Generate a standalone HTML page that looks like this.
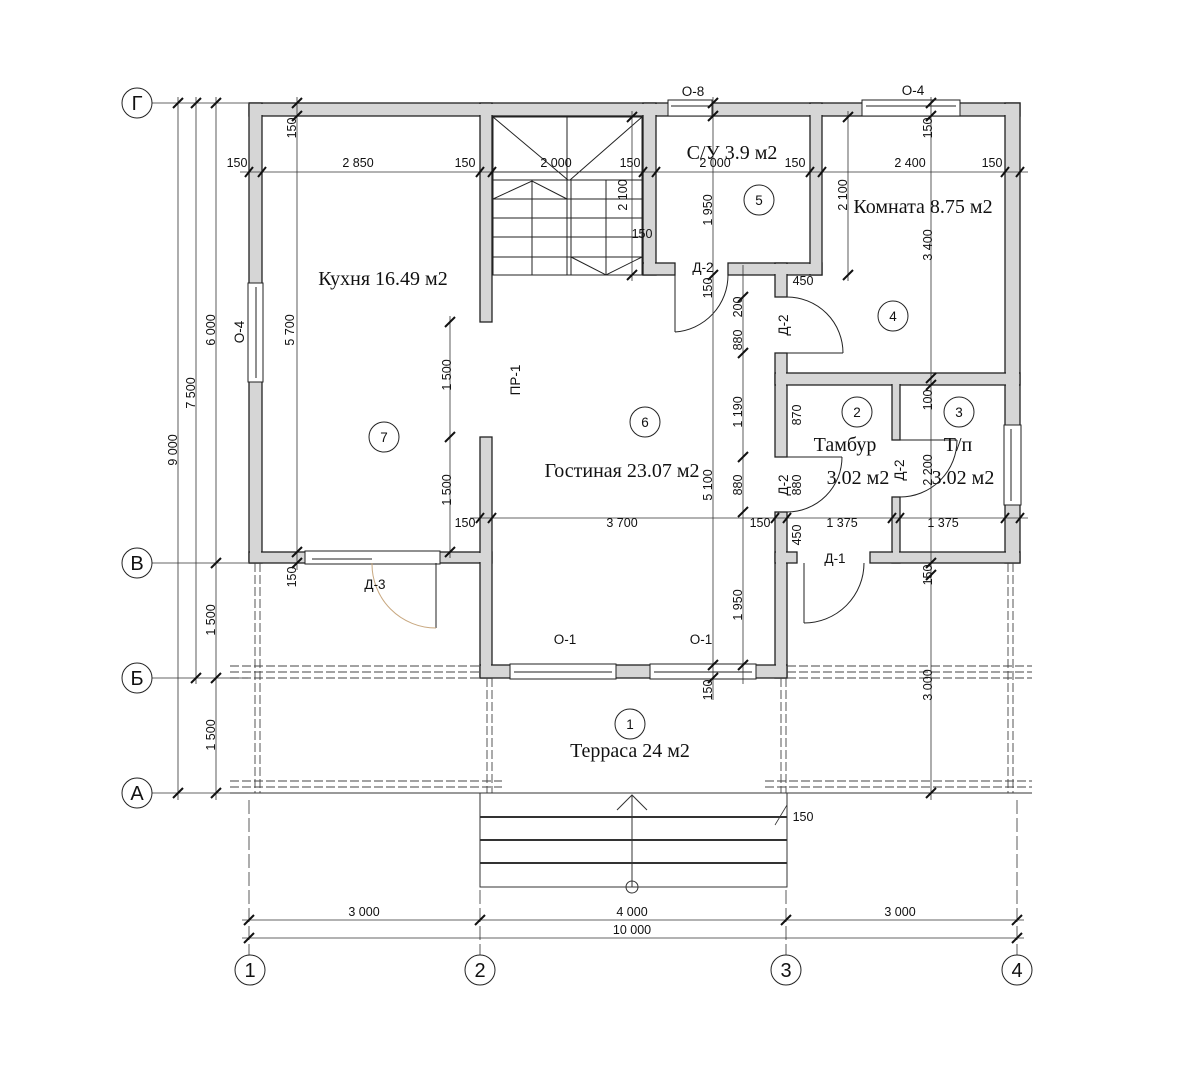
<!DOCTYPE html>
<html><head><meta charset="utf-8"><style>
html,body{margin:0;padding:0;background:#fff}
svg{display:block}
.d{font-family:"Liberation Sans",sans-serif;font-size:12.5px;fill:#111}
.r{font-family:"Liberation Serif","Noto Serif CJK SC",serif;font-size:20px;fill:#111}
.l{font-family:"Liberation Sans",sans-serif;font-size:13.5px;fill:#111}
</style></head><body>
<svg width="1187" height="1080" viewBox="0 0 1187 1080" xmlns="http://www.w3.org/2000/svg">
<rect width="1187" height="1080" fill="#fff"/>
<g fill="#d6d6d6" stroke="#222" stroke-width="1.3">
<rect x="249" y="103" width="771" height="13"/>
<rect x="249" y="103" width="13" height="460"/>
<rect x="1005" y="103" width="15" height="460"/>
<rect x="480" y="103" width="12" height="219"/>
<rect x="643" y="103" width="13" height="172"/>
<rect x="643" y="263" width="32" height="12"/>
<rect x="728" y="263" width="94" height="12"/>
<rect x="810" y="103" width="12" height="172"/>
<rect x="775" y="263" width="12" height="34"/>
<rect x="775" y="353" width="12" height="104"/>
<rect x="775" y="512" width="12" height="166"/>
<rect x="775" y="373" width="245" height="12"/>
<rect x="892" y="383" width="8" height="57"/>
<rect x="892" y="497" width="8" height="66"/>
<rect x="775" y="552" width="22" height="11"/>
<rect x="870" y="552" width="150" height="11"/>
<rect x="249" y="552" width="59" height="11"/>
<rect x="438" y="552" width="54" height="11"/>
<rect x="480" y="437" width="12" height="241"/>
<rect x="480" y="665" width="307" height="13"/>
</g>
<g fill="#d6d6d6">
<rect x="250" y="104" width="769" height="11"/>
<rect x="250" y="104" width="11" height="458"/>
<rect x="1006" y="104" width="13" height="458"/>
<rect x="481" y="104" width="10" height="217"/>
<rect x="644" y="104" width="11" height="170"/>
<rect x="644" y="264" width="30" height="10"/>
<rect x="729" y="264" width="92" height="10"/>
<rect x="811" y="104" width="10" height="170"/>
<rect x="776" y="264" width="10" height="32"/>
<rect x="776" y="354" width="10" height="102"/>
<rect x="776" y="513" width="10" height="164"/>
<rect x="776" y="374" width="243" height="10"/>
<rect x="893" y="384" width="6" height="55"/>
<rect x="893" y="498" width="6" height="64"/>
<rect x="776" y="553" width="20" height="9"/>
<rect x="871" y="553" width="148" height="9"/>
<rect x="250" y="553" width="57" height="9"/>
<rect x="439" y="553" width="52" height="9"/>
<rect x="481" y="438" width="10" height="239"/>
<rect x="481" y="666" width="305" height="11"/>
</g>
<g fill="#fff" stroke="#222" stroke-width="1">
<rect x="668" y="100" width="44" height="16"/><line x1="671" y1="106" x2="709" y2="106"/>
<rect x="862" y="100" width="98" height="16"/><line x1="866" y1="106" x2="956" y2="106"/>
<rect x="248" y="283" width="15" height="99"/><line x1="256" y1="287" x2="256" y2="378"/>
<rect x="1004" y="425" width="17" height="80"/><line x1="1011" y1="429" x2="1011" y2="501"/>
<rect x="510" y="664" width="106" height="15"/><line x1="514" y1="672" x2="612" y2="672"/>
<rect x="650" y="664" width="106" height="15"/><line x1="654" y1="672" x2="752" y2="672"/>
<rect x="305" y="551" width="135" height="13"/><line x1="312" y1="559" x2="372" y2="559"/>
</g>
<g fill="none" stroke="#222" stroke-width="1">
<line x1="675" y1="275" x2="675" y2="332"/><path d="M675 332 A57 57 0 0 0 728 275"/>
<line x1="787" y1="353" x2="843" y2="353"/><path d="M787 297 A56 56 0 0 1 843 353"/>
<line x1="787" y1="457" x2="842" y2="457"/><path d="M842 457 A55 55 0 0 1 787 512"/>
<line x1="900" y1="440" x2="957" y2="440"/><path d="M957 440 A57 57 0 0 1 900 497"/>
<line x1="804" y1="563" x2="804" y2="623"/><path d="M804 623 A60 60 0 0 0 864 563"/>
<line x1="436" y1="563" x2="436" y2="628"/>
<path d="M372 563 A64 64 0 0 0 436 628" stroke="#c8a880"/>
</g>
<g fill="none" stroke="#222" stroke-width="1">
<rect x="493" y="117" width="149" height="158"/>
<line x1="493" y1="172" x2="642" y2="172"/><line x1="493" y1="180" x2="642" y2="180"/>
<line x1="493" y1="199" x2="642" y2="199"/><line x1="493" y1="218" x2="642" y2="218"/>
<line x1="493" y1="237" x2="642" y2="237"/><line x1="493" y1="257" x2="642" y2="257"/>
<line x1="532" y1="180" x2="532" y2="275"/><line x1="567" y1="117" x2="567" y2="275"/>
<line x1="571" y1="180" x2="571" y2="275"/><line x1="606" y1="180" x2="606" y2="275"/>
<line x1="493" y1="117" x2="568" y2="180"/><line x1="642" y1="117" x2="570" y2="180"/>
<polyline points="493,199 532,181 567,199"/><polyline points="571,257 606,275 642,257"/>
</g>
<g fill="none" stroke="#444" stroke-width="0.9" stroke-dasharray="9,3">
<line x1="230" y1="666" x2="480" y2="666"/><line x1="230" y1="672" x2="480" y2="672"/><line x1="230" y1="678" x2="480" y2="678"/>
<line x1="787" y1="666" x2="1032" y2="666"/><line x1="787" y1="672" x2="1032" y2="672"/><line x1="787" y1="678" x2="1032" y2="678"/>
<line x1="230" y1="781" x2="502" y2="781"/><line x1="230" y1="787" x2="502" y2="787"/>
<line x1="765" y1="781" x2="1032" y2="781"/><line x1="765" y1="787" x2="1032" y2="787"/>
<line x1="255" y1="563" x2="255" y2="793"/><line x1="260" y1="563" x2="260" y2="793"/>
<line x1="487" y1="678" x2="487" y2="793"/><line x1="492" y1="678" x2="492" y2="793"/>
<line x1="781" y1="678" x2="781" y2="793"/><line x1="786" y1="678" x2="786" y2="793"/>
<line x1="1008" y1="563" x2="1008" y2="793"/><line x1="1013" y1="563" x2="1013" y2="793"/>
</g>
<g stroke="#333" stroke-width="1" fill="none">
<line x1="230" y1="793" x2="1032" y2="793"/>
<rect x="480" y="793" width="307" height="94"/>
<line x1="480" y1="817" x2="787" y2="817" stroke-width="2"/>
<line x1="480" y1="840" x2="787" y2="840" stroke-width="2"/>
<line x1="480" y1="863" x2="787" y2="863" stroke-width="2"/>
<line x1="632" y1="795" x2="632" y2="887"/><polyline points="617,810 632,795 647,810"/>
<circle cx="632" cy="887" r="6"/>
</g>
<g stroke="#333" stroke-width="0.8" fill="none">
<line x1="240" y1="172" x2="1028" y2="172"/>
<line x1="297" y1="97" x2="297" y2="570"/>
<line x1="450" y1="316" x2="450" y2="558"/>
<line x1="632" y1="111" x2="632" y2="281"/>
<line x1="713" y1="97" x2="713" y2="700"/>
<line x1="743" y1="265" x2="743" y2="684"/>
<line x1="848" y1="111" x2="848" y2="281"/>
<line x1="931" y1="97" x2="931" y2="800"/>
<line x1="470" y1="518" x2="1028" y2="518"/>
<line x1="178" y1="97" x2="178" y2="800"/>
<line x1="196" y1="97" x2="196" y2="684"/>
<line x1="216" y1="97" x2="216" y2="800"/>
<line x1="152" y1="103" x2="248" y2="103"/><line x1="152" y1="563" x2="248" y2="563"/>
<line x1="152" y1="678" x2="248" y2="678"/><line x1="152" y1="793" x2="248" y2="793"/>
<line x1="242" y1="920" x2="1024" y2="920"/><line x1="242" y1="938" x2="1024" y2="938"/>
<line x1="249" y1="800" x2="249" y2="955" stroke-dasharray="14,4"/>
<line x1="480" y1="890" x2="480" y2="955" stroke-dasharray="14,4"/>
<line x1="786" y1="890" x2="786" y2="955" stroke-dasharray="14,4"/>
<line x1="1017" y1="800" x2="1017" y2="955" stroke-dasharray="14,4"/>
<line x1="787" y1="805" x2="775" y2="825"/>
</g>
<g stroke="#111" stroke-width="2">
<path d="M245 177l8-10M258 177l8-10M476 177l8-10M488 177l8-10M639 177l8-10M652 177l8-10M806 177l8-10M818 177l8-10M1001 177l8-10M1016 177l8-10"/>
<path d="M292 108l10-10M292 121l10-10M292 557l10-10M292 568l10-10"/>
<path d="M445 327l10-10M445 442l10-10M445 557l10-10"/>
<path d="M627 122l10-10M627 280l10-10"/>
<path d="M708 108l10-10M708 121l10-10M708 280l10-10M708 670l10-10M708 683l10-10"/>
<path d="M738 302l10-10M738 358l10-10M738 462l10-10M738 517l10-10M738 670l10-10"/>
<path d="M843 122l10-10M843 280l10-10"/>
<path d="M926 108l10-10M926 121l10-10M926 383l10-10M926 390l10-10M926 568l10-10M926 580l10-10M926 798l10-10"/>
<path d="M476 523l8-10M488 523l8-10M771 523l8-10M783 523l8-10M888 523l8-10M896 523l8-10M1001 523l8-10M1016 523l8-10"/>
<path d="M173 108l10-10M173 798l10-10M191 108l10-10M191 683l10-10M211 108l10-10M211 568l10-10M211 683l10-10M211 798l10-10"/>
<path d="M244 925l10-10M475 925l10-10M781 925l10-10M1012 925l10-10M244 943l10-10M1012 943l10-10"/>
</g>
<g fill="#fff" stroke="#222" stroke-width="1">
<circle cx="137" cy="103" r="15"/><circle cx="137" cy="563" r="15"/><circle cx="137" cy="678" r="15"/><circle cx="137" cy="793" r="15"/>
<circle cx="250" cy="970" r="15"/><circle cx="480" cy="970" r="15"/><circle cx="786" cy="970" r="15"/><circle cx="1017" cy="970" r="15"/>
<circle cx="384" cy="437" r="15"/><circle cx="645" cy="422" r="15"/><circle cx="759" cy="200" r="15"/><circle cx="893" cy="316" r="15"/>
<circle cx="857" cy="412" r="15"/><circle cx="959" cy="412" r="15"/><circle cx="630" cy="724" r="15"/>
</g>
<g class="r" text-anchor="middle" style="font-size:20px;font-family:'Liberation Sans',sans-serif">
<text x="137" y="110">Г</text><text x="137" y="570">В</text><text x="137" y="685">Б</text><text x="137" y="800">А</text>
<text x="250" y="977">1</text><text x="480" y="977">2</text><text x="786" y="977">3</text><text x="1017" y="977">4</text>
</g>
<g class="l" text-anchor="middle">
<text x="384" y="442">7</text><text x="645" y="427">6</text><text x="759" y="205">5</text><text x="893" y="321">4</text>
<text x="857" y="417">2</text><text x="959" y="417">3</text><text x="630" y="729">1</text>
<text x="693" y="96">О-8</text><text x="913" y="95">О-4</text><text x="375" y="589">Д-3</text>
<text x="565" y="644">О-1</text><text x="701" y="644">О-1</text><text x="835" y="563">Д-1</text>
<text x="703" y="272">Д-2</text>
<text transform="translate(244,332) rotate(-90)">О-4</text>
<text transform="translate(520,380) rotate(-90)">ПР-1</text>
<text transform="translate(788,325) rotate(-90)">Д-2</text>
<text transform="translate(788,485) rotate(-90)">Д-2</text>
<text transform="translate(904,470) rotate(-90)">Д-2</text>
</g>
<g class="r" text-anchor="middle">
<text x="383" y="285">Кухня 16.49 м2</text>
<text x="622" y="477">Гостиная 23.07 м2</text>
<text x="732" y="159">С/У 3.9 м2</text>
<text x="923" y="213">Комната 8.75 м2</text>
<text x="845" y="451">Тамбур</text><text x="858" y="484">3.02 м2</text>
<text x="958" y="451">Т/п</text><text x="963" y="484">3.02 м2</text>
<text x="630" y="757">Терраса 24 м2</text>
</g>
<g class="d" text-anchor="middle">
<text x="237" y="167">150</text><text x="358" y="167">2 850</text><text x="465" y="167">150</text>
<text x="556" y="167">2 000</text><text x="630" y="167">150</text><text x="715" y="167">2 000</text>
<text x="795" y="167">150</text><text x="910" y="167">2 400</text><text x="992" y="167">150</text>
<text x="642" y="238">150</text><text x="803" y="285">450</text><text x="803" y="821">150</text>
<text x="465" y="527">150</text><text x="622" y="527">3 700</text><text x="760" y="527">150</text>
<text x="842" y="527">1 375</text><text x="943" y="527">1 375</text>
<text x="364" y="916">3 000</text><text x="632" y="916">4 000</text><text x="900" y="916">3 000</text>
<text x="632" y="934">10 000</text>
<text transform="translate(296,128) rotate(-90)">150</text>
<text transform="translate(294,330) rotate(-90)">5 700</text>
<text transform="translate(296,577) rotate(-90)">150</text>
<text transform="translate(451,375) rotate(-90)">1 500</text>
<text transform="translate(451,490) rotate(-90)">1 500</text>
<text transform="translate(627,195) rotate(-90)">2 100</text>
<text transform="translate(712,210) rotate(-90)">1 950</text>
<text transform="translate(712,288) rotate(-90)">150</text>
<text transform="translate(712,485) rotate(-90)">5 100</text>
<text transform="translate(712,690) rotate(-90)">150</text>
<text transform="translate(742,307) rotate(-90)">200</text>
<text transform="translate(742,340) rotate(-90)">880</text>
<text transform="translate(742,412) rotate(-90)">1 190</text>
<text transform="translate(742,485) rotate(-90)">880</text>
<text transform="translate(742,605) rotate(-90)">1 950</text>
<text transform="translate(801,415) rotate(-90)">870</text>
<text transform="translate(801,485) rotate(-90)">880</text>
<text transform="translate(801,535) rotate(-90)">450</text>
<text transform="translate(847,195) rotate(-90)">2 100</text>
<text transform="translate(932,128) rotate(-90)">150</text>
<text transform="translate(932,245) rotate(-90)">3 400</text>
<text transform="translate(932,400) rotate(-90)">100</text>
<text transform="translate(932,470) rotate(-90)">2 200</text>
<text transform="translate(932,575) rotate(-90)">150</text>
<text transform="translate(932,685) rotate(-90)">3 000</text>
<text transform="translate(177,450) rotate(-90)">9 000</text>
<text transform="translate(195,393) rotate(-90)">7 500</text>
<text transform="translate(215,330) rotate(-90)">6 000</text>
<text transform="translate(215,620) rotate(-90)">1 500</text>
<text transform="translate(215,735) rotate(-90)">1 500</text>
</g>
</svg>
</body></html>
